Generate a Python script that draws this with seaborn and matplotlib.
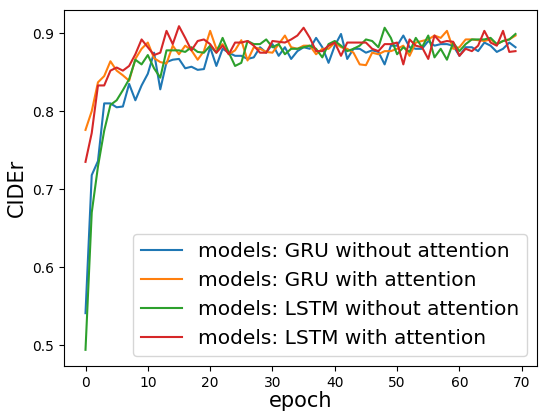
#%%
import pandas as pd
import matplotlib
matplotlib.use("Agg")
import matplotlib.pyplot as plt
import seaborn as sns

#%%
epochs = list(range(70))

gru_sin_atencion = [
    0.541, 0.718, 0.736, 0.810, 0.810, 0.805, 0.806, 0.835, 0.814, 0.833,
    0.848, 0.875, 0.828, 0.863, 0.866, 0.867, 0.855, 0.857, 0.853, 0.854,
    0.882, 0.858, 0.880, 0.875, 0.871, 0.871, 0.867, 0.869, 0.882, 0.875,
    0.886, 0.871, 0.882, 0.867, 0.877, 0.882, 0.880, 0.894, 0.882, 0.862,
    0.884, 0.899, 0.867, 0.880, 0.880, 0.875, 0.878, 0.876, 0.860, 0.884,
    0.884, 0.897, 0.882, 0.880, 0.880, 0.890, 0.884, 0.886, 0.886, 0.884,
    0.871, 0.882, 0.882, 0.877, 0.888, 0.884, 0.876, 0.880, 0.888, 0.882,
]
gru_con_atencion = [
    0.776, 0.800, 0.837, 0.845, 0.864, 0.852, 0.846, 0.839, 0.867, 0.880,
    0.888, 0.868, 0.863, 0.861, 0.884, 0.873, 0.884, 0.878, 0.866, 0.877,
    0.903, 0.880, 0.886, 0.873, 0.878, 0.891, 0.865, 0.882, 0.880, 0.876,
    0.875, 0.886, 0.897, 0.882, 0.880, 0.884, 0.884, 0.873, 0.880, 0.880,
    0.888, 0.882, 0.880, 0.875, 0.860, 0.859, 0.875, 0.873, 0.877, 0.877,
    0.880, 0.884, 0.871, 0.888, 0.890, 0.892, 0.897, 0.894, 0.903, 0.880,
    0.882, 0.892, 0.892, 0.891, 0.890, 0.892, 0.886, 0.890, 0.892, 0.897,
]
lstm_sin_atencion = [
    0.494, 0.670, 0.729, 0.775, 0.808, 0.814, 0.827, 0.841, 0.866, 0.860,
    0.872, 0.855, 0.843, 0.878, 0.878, 0.878, 0.876, 0.882, 0.876, 0.875,
    0.884, 0.875, 0.894, 0.875, 0.858, 0.862, 0.890, 0.886, 0.886, 0.892,
    0.882, 0.886, 0.873, 0.880, 0.880, 0.882, 0.884, 0.880, 0.869, 0.886,
    0.890, 0.884, 0.877, 0.880, 0.884, 0.892, 0.890, 0.882, 0.907, 0.894,
    0.873, 0.882, 0.876, 0.894, 0.882, 0.897, 0.869, 0.880, 0.866, 0.888,
    0.877, 0.886, 0.892, 0.892, 0.892, 0.894, 0.886, 0.890, 0.892, 0.899,
]
lstm_con_atencion = [
    0.735, 0.772, 0.833, 0.833, 0.852, 0.856, 0.852, 0.858, 0.873, 0.892,
    0.882, 0.872, 0.875, 0.903, 0.886, 0.909, 0.894, 0.878, 0.890, 0.892,
    0.886, 0.875, 0.884, 0.873, 0.888, 0.888, 0.890, 0.884, 0.875, 0.875,
    0.890, 0.889, 0.888, 0.892, 0.897, 0.907, 0.894, 0.877, 0.877, 0.884,
    0.888, 0.871, 0.888, 0.888, 0.888, 0.888, 0.880, 0.877, 0.886, 0.886,
    0.888, 0.860, 0.892, 0.884, 0.882, 0.867, 0.897, 0.888, 0.890, 0.889,
    0.871, 0.880, 0.877, 0.884, 0.903, 0.888, 0.884, 0.903, 0.876, 0.877,
]

modelos = {
    'GRU without attention': gru_sin_atencion,
    'GRU with attention': gru_con_atencion,
    'LSTM without attention': lstm_sin_atencion,
    'LSTM with attention': lstm_con_atencion,
}

#%%
fig = plt.figure(figsize=(5.39, 4.12), dpi=100)
ax = fig.add_axes([64 / 539, 46 / 412, 473 / 539, 356 / 412])

for nombre, valores in modelos.items():
    df = pd.DataFrame({'epoch': epochs, 'CIDEr': valores})
    sns.lineplot(data=df, x='epoch', y='CIDEr', ax=ax, label=f'models: {nombre}')

ax.set_xlabel('epoch', fontsize=15, labelpad=1)
ax.set_ylabel('CIDEr', fontsize=15)
ax.set_yticks([0.5, 0.6, 0.7, 0.8, 0.9])
ax.legend(loc='lower right', fontsize=14.5)

fig.savefig('out.png', dpi=100)
